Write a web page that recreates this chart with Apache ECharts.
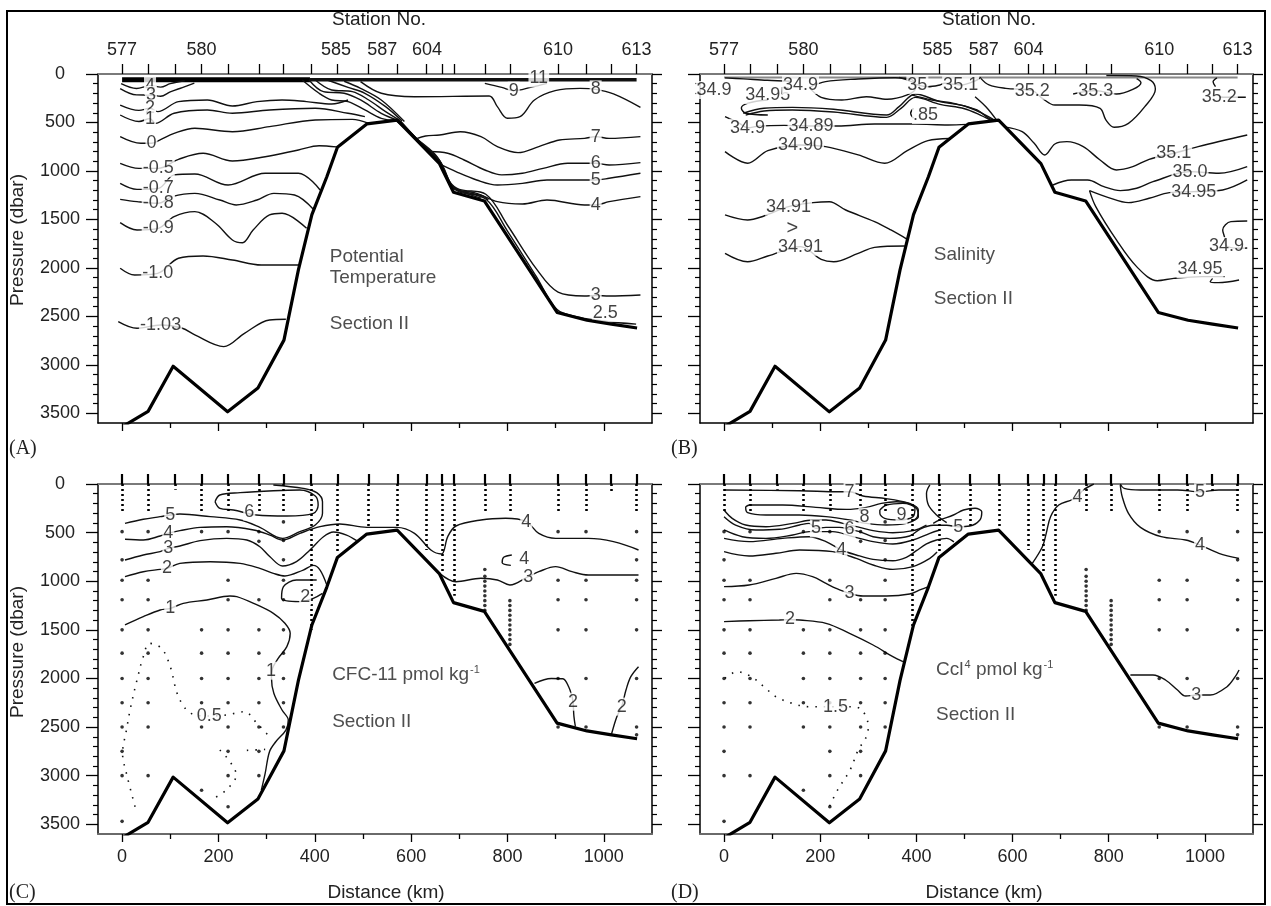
<!DOCTYPE html>
<html>
<head>
<meta charset="utf-8">
<script src="https://cdn.jsdelivr.net/npm/echarts@6/dist/echarts.min.js"></script>
<style>
html, body { margin: 0; padding: 0; background: #fff; }
#main { width: 1271px; height: 906px; }
</style>
</head>
<body>
<div id="main"></div>
<script>
// stations and axes
const stationKm = [0, 54, 110, 165, 220, 284, 335, 392, 447, 511, 572, 632, 664, 689, 753, 805, 905, 963, 1015, 1068];
const stationLabelKm = [0, 165, 444, 540, 633, 905, 1068];
const stationLabelNo = ['577', '580', '585', '587', '604', '610', '613'];
const distTicks = [0, 200, 400, 600, 800, 1000];
const distMinorTicks = [100, 300, 500, 700, 900];
const presTicks = [0, 500, 1000, 1500, 2000, 2500, 3000, 3500];
const presMinorTicks = [100, 200, 300, 400, 600, 700, 800, 900, 1100, 1200, 1300, 1400, 1600, 1700, 1800, 1900,
  2100, 2200, 2300, 2400, 2600, 2700, 2800, 2900, 3100, 3200, 3300, 3400];

// bottom topography (km, dbar)
const bathyKm = [0, 54, 106, 219, 282, 336, 366, 394, 425, 447, 508, 571, 659, 688, 752, 903, 965, 1016, 1069];
const bathyDbar = [3640, 3480, 3015, 3485, 3240, 2745, 2020, 1450, 1060, 755, 515, 475, 925, 1220, 1310, 2460, 2540, 2580, 2620];

// sampling (panels C, D)
const castBottom = [300, 300, 60, 300, 300, 280, 300, 1500, 700, 440, 440, 680, 900, 1150, 300, 300, 300, 300, 80, 300];
const deepSamples = [
  [490, 780, 990, 1190, 1500, 1740, 2000, 2250, 2500, 2750, 3000, 3470],
  [490, 990, 1190, 1500, 1740, 2000, 2250, 2500, 3000],
  [],
  [490, 1500, 1740, 2000, 2250, 2500, 3150],
  [490, 990, 1190, 1500, 1740, 2000, 2250, 2500, 2750, 3000, 3320],
  [490, 590, 1190, 1500, 1740, 2000, 2250, 2500, 2750, 3000],
  [390, 580, 780, 990, 1190, 1500, 1740, 2000, 2250, 2500],
  [], [], [], [], [], [], [],
  [880, 950, 1000, 1050, 1100, 1150, 1200, 1250, 1300],
  [1200, 1250, 1300, 1350, 1400, 1450, 1500, 1550, 1600, 1650],
  [490, 990, 1190, 1500, 2000, 2500],
  [490, 990, 1190, 1500, 2000, 2500],
  [],
  [490, 780, 990, 1190, 1500, 2000, 2500, 2580]
];

// (A) potential temperature contours
const tA_surfW = [[0, 60], [390, 60]];
const tA_surfE = [[390, 60], [1068, 60]];
const tA_4 = [[-2, 100], [30, 150], [58, 120], [80, 135], [100, 100], [130, 70]];
const tA_3 = [[-4, 150], [30, 215], [60, 217], [80, 230], [100, 185], [125, 140], [150, 95]];
const tA_2 = [[-4, 320], [35, 375], [58, 354], [74, 388], [117, 285], [177, 268], [229, 330], [280, 285], [332, 268], [383, 285], [435, 309], [469, 268]];
const tA_1 = [[-4, 423], [35, 490], [58, 460], [69, 509], [108, 405], [177, 371], [229, 405], [306, 371], [401, 354], [469, 405], [504, 440]];
const tA_0 = [[-4, 646], [39, 715], [61, 715], [78, 681], [108, 612], [151, 560], [229, 595], [306, 543], [401, 474], [478, 468], [512, 510]];
const tA_m05 = [[-4, 921], [35, 973], [75, 973], [117, 880], [168, 818], [229, 897], [297, 853], [366, 784], [409, 740], [445, 752]];
const tA_m07 = [[-4, 1128], [31, 1190], [75, 1180], [108, 1041], [151, 1031], [220, 1145], [297, 1024], [366, 1024], [411, 1196]];
const tA_m08 = [[-4, 1293], [31, 1317], [75, 1334], [104, 1265], [151, 1231], [203, 1300], [237, 1351], [280, 1300], [315, 1231], [358, 1248], [398, 1400]];
const tA_m09 = [[-4, 1533], [31, 1609], [75, 1592], [108, 1471], [151, 1420], [194, 1540], [229, 1712], [250, 1740], [272, 1609], [306, 1454], [332, 1437], [383, 1592]];
const tA_m10 = [[-4, 2004], [26, 2073], [74, 2056], [117, 1901], [168, 1877], [229, 1918], [289, 1970], [368, 1970]];
const tA_m103 = [[-8, 2554], [31, 2623], [80, 2589], [125, 2623], [151, 2692], [211, 2812], [254, 2675], [306, 2537], [340, 2530]];
const tA_s1 = [[374, 62], [409, 199], [435, 268], [469, 285], [504, 371], [538, 457], [571, 480]];
const tA_s2 = [[388, 62], [418, 182], [461, 199], [495, 268], [538, 405], [571, 475]];
const tA_s3 = [[401, 62], [435, 165], [478, 182], [512, 268], [547, 388], [577, 480]];
const tA_s4 = [[426, 62], [469, 138], [504, 199], [547, 337], [581, 485]];
const tA_s5 = [[461, 75], [495, 148], [538, 268], [586, 490]];
const tA_s6 = [[575, 478], [612, 670], [657, 880], [682, 1130], [700, 1200], [750, 1260], [760, 1300]];
const tA_s7 = [[578, 485], [614, 680], [660, 900], [685, 1160], [700, 1205], [745, 1280]];
const tA_3r = [[571, 480], [610, 660], [655, 860], [680, 1110], [700, 1190], [755, 1240], [800, 1560], [860, 2010], [905, 2250], [960, 2290], [983, 2285], [1011, 2290], [1076, 2280]];
const tA_25 = [[571, 490], [610, 668], [655, 885], [683, 1150], [700, 1215], [755, 1290], [800, 1620], [860, 2090], [903, 2430], [951, 2510], [1003, 2550], [1067, 2580]];
const tA_7 = [[610, 670], [630, 640], [659, 629], [702, 595], [745, 646], [779, 749], [822, 811], [865, 749], [908, 681], [960, 664], [983, 646], [1011, 664], [1076, 646]];
const tA_6 = [[638, 800], [676, 818], [710, 887], [753, 990], [788, 1041], [831, 1024], [874, 973], [925, 921], [960, 921], [983, 921], [1011, 938], [1076, 914]];
const tA_5 = [[660, 930], [693, 1007], [736, 1093], [779, 1145], [831, 1128], [882, 1093], [960, 1093], [983, 1093], [1011, 1076], [1076, 1024]];
const tA_4r = [[700, 1205], [736, 1231], [779, 1317], [831, 1341], [882, 1300], [960, 1351], [983, 1351], [1011, 1317], [1076, 1265]];
const tA_8 = [[495, 79], [538, 199], [607, 234], [762, 227], [779, 337], [800, 457], [826, 440], [856, 268], [899, 172], [951, 148], [983, 158], [1020, 206], [1076, 344]];
const tA_9 = [[753, 96], [788, 138], [813, 172], [848, 138], [882, 96]];
const tA_labels = [['4', 58, 120], ['3', 60, 217], ['2', 58, 354], ['1', 58, 460], ['0', 61, 715], ['-0.5', 75, 973],
  ['-0.7', 75, 1180], ['-0.8', 75, 1334], ['-0.9', 75, 1592], ['-1.0', 74, 2056], ['-1.03', 80, 2589],
  ['7', 983, 646], ['6', 983, 921], ['5', 983, 1093], ['4', 983, 1351], ['3', 983, 2285], ['2.5', 1003, 2465],
  ['8', 983, 158], ['9', 813, 172], ['11', 865, 45]];
const tA_text = [['Potential', 431, 1888], ['Temperature', 431, 2104], ['Section II', 431, 2572]];

// (B) salinity contours
const sB_top = [[0, 35], [1068, 35]];
const sB_loop = [[177, 138], [211, 79], [279, 52], [356, 38], [390, 55], [398, 148], [381, 216], [339, 261], [296, 234], [245, 268], [202, 241], [177, 138]];
const sB_a = [[2, 40], [40, 50], [90, 65], [140, 75]];
const sB_b = [[91, 268], [50, 300], [36, 350], [45, 405], [91, 423]];
const sB_b1 = [[40, 405], [83, 354], [142, 344], [228, 364], [338, 423], [364, 337], [398, 206], [449, 285], [500, 330], [534, 399], [564, 480]];
const sB_b2 = [[45, 425], [83, 382], [142, 371], [228, 392], [338, 447], [368, 354], [398, 241], [449, 313], [500, 358], [534, 426], [560, 490]];
const sB_b3 = [[390, 216], [432, 268], [483, 309], [526, 371], [551, 457], [568, 480]];
const sB_85 = [[394, 354], [388, 405], [394, 457]];
const sB_35 = [[364, 34], [390, 79], [402, 113], [424, 131], [449, 113], [458, 96], [492, 113], [526, 62], [534, 34]];
const sB_351b = [[522, 234], [545, 340], [566, 470]];
const sB_352 = [[534, 45], [551, 113], [586, 148], [641, 172], [662, 251], [688, 320], [739, 320], [782, 354], [794, 474], [811, 550], [841, 509], [875, 337], [897, 158], [888, 69], [858, 20], [795, 15]];
const sB_353 = [[726, 206], [773, 172], [816, 206], [850, 158], [867, 89], [858, 48]];
const sB_352r = [[1025, 40], [1017, 80], [1022, 130]];
const sB_352rr = [[1030, 237], [1060, 240], [1085, 240]];
const sB_3489 = [[2, 440], [32, 509], [49, 554], [74, 536], [125, 530], [181, 536], [236, 536], [313, 516], [398, 516], [466, 526], [505, 520]];
const sB_3490 = [[2, 801], [49, 921], [91, 791], [159, 732], [211, 749], [279, 835], [334, 921], [381, 791], [424, 688], [468, 665]];
const sB_3491a = [[2, 1454], [49, 1506], [83, 1465], [134, 1368], [185, 1327], [219, 1317], [253, 1403], [313, 1523], [347, 1609], [381, 1705]];
const sB_3491b = [[2, 1850], [49, 1936], [91, 1877], [159, 1781], [202, 1912], [228, 1936], [279, 1850], [313, 1788], [376, 1774]];
const sB_351r = [[583, 545], [620, 595], [645, 715], [667, 836], [688, 722], [713, 698], [747, 749], [782, 887], [816, 990], [850, 956], [884, 880], [935, 818], [986, 749], [1088, 629]];
const sB_350 = [[684, 1145], [722, 1093], [756, 1093], [790, 1162], [824, 1203], [858, 1179], [892, 1111], [969, 1007], [1029, 1024], [1088, 956]];
const sB_3495u = [[760, 1203], [798, 1272], [841, 1327], [884, 1282], [926, 1224], [977, 1213], [1037, 1196], [1088, 1093]];
const sB_3495s = [[760, 1203], [773, 1368], [816, 1712], [858, 1987], [901, 2132], [935, 2108], [994, 2090], [1041, 2090]];
const sB_349r = [[1088, 1517], [1054, 1523], [1037, 1609], [1041, 1685], [1045, 1774], [1075, 1798], [1088, 1795]];
const sB_paren = [[1016, 2108], [1011, 2142], [1028, 2152], [1071, 2125]];
const sB_labels = [['34.9', -21, 165], ['34.95', 91, 216], ['34.9', 159, 113], ['.85', 419, 423], ['35', 402, 113], ['35.1', 492, 113],
  ['35.2', 641, 172], ['35.3', 773, 172], ['35.2', 1030, 237], ['34.9', 49, 554], ['34.89', 181, 536], ['34.90', 159, 732],
  ['34.91', 134, 1368], ['34.91', 159, 1781], ['35.1', 935, 818], ['35.0', 969, 1007], ['34.95', 977, 1213],
  ['34.95', 990, 2015], ['34.9', 1045, 1774]];
const sB_text = [['Salinity', 436, 1867], ['Section II', 436, 2314]];
const sB_arrow = [['>', 142, 1592]];

// (C) CFC-11 contours
const cC_6 = [[193, 182], [203, 113], [245, 89], [314, 69], [369, 62], [401, 123], [407, 216], [397, 302], [342, 329], [279, 319], [231, 267], [203, 250], [193, 182]];
const cC_5 = [[6, 405], [44, 363], [79, 336], [100, 319], [120, 309], [183, 336], [245, 370], [286, 446], [333, 559], [369, 490], [401, 422], [416, 302], [416, 182], [404, 89], [376, 45], [314, 10]];
const cC_4 = [[6, 569], [44, 576], [79, 535], [96, 507], [120, 480], [162, 446], [217, 439], [273, 473], [307, 525], [333, 576], [369, 507], [411, 439], [452, 411], [508, 446], [570, 446], [607, 507], [641, 679], [663, 720], [676, 542], [693, 432], [745, 370], [796, 353], [839, 387], [865, 508], [900, 559], [968, 559], [1020, 593], [1072, 679]];
const cC_3 = [[6, 782], [44, 730], [79, 696], [96, 662], [120, 638], [162, 583], [217, 559], [259, 576], [286, 645], [307, 748], [333, 844], [362, 799], [390, 679], [418, 542], [439, 494], [466, 525], [487, 583]];
const cC_3r = [[659, 919], [693, 1005], [745, 970], [779, 987], [805, 1039], [843, 953], [865, 902], [900, 850], [934, 902], [968, 936], [1072, 936]];
const cC_4s = [[809, 730], [792, 754], [789, 809], [807, 837]];
const cC_2 = [[6, 953], [44, 902], [79, 878], [93, 868], [120, 816], [183, 799], [245, 816], [286, 868], [314, 919], [338, 946], [376, 885], [397, 837], [411, 885], [425, 1040]];
const cC_2loop = [[404, 988], [362, 988], [335, 1056], [331, 1176], [369, 1210], [397, 1176], [416, 1125]];
const cC_1 = [[6, 1450], [44, 1365], [79, 1296], [100, 1279], [127, 1228], [176, 1193], [224, 1152], [238, 1159], [273, 1228], [314, 1330], [338, 1433], [349, 1536], [342, 1673], [324, 1793], [312, 1900], [310, 1990], [315, 2153], [332, 2325], [345, 2428], [340, 2531], [319, 2651], [306, 2753], [297, 2976], [289, 3150]];
const cC_05a = [[27, 3319], [9, 2976], [1, 2771], [9, 2531], [18, 2290], [31, 2016], [44, 1776], [57, 1639], [82, 1690], [100, 1879], [117, 2188], [143, 2359], [181, 2387], [216, 2376], [254, 2342], [280, 2462], [306, 2599]];
const cC_05b = [[203, 2736], [224, 2856], [237, 2993], [216, 3148], [190, 3234]];
const cC_05c = [[259, 2740], [297, 2730]];
const cC_2a = [[856, 2051], [891, 2000], [915, 2003], [927, 2085], [934, 2188], [936, 2239], [938, 2393], [941, 2496]];
const cC_2b = [[1016, 2572], [1027, 2393], [1037, 2290], [1046, 2119], [1056, 1982], [1072, 1879]];
const cC_labels = [['6', 264, 285], ['5', 100, 319], ['4', 96, 507], ['4', 839, 387], ['3', 96, 662], ['3', 843, 953], ['4', 835, 775],
  ['2', 93, 868], ['2', 380, 1159], ['1', 100, 1279], ['1', 309, 1920], ['0.5', 181, 2387], ['2', 936, 2239], ['2', 1037, 2290]];
const cC_text = [['CFC-11 pmol kg{sup|-1}', 436, 1965], ['Section II', 436, 2445]];

// (D) CCl4 contours
const cD_7 = [[0, 62], [157, 69], [240, 79], [261, 79], [289, 123], [337, 151], [379, 192], [400, 250], [404, 336], [393, 377]];
const cD_8 = [[52, 216], [122, 216], [191, 240], [254, 261], [296, 240], [327, 199], [358, 182], [386, 199], [404, 267], [400, 353], [379, 405], [337, 422], [296, 405], [261, 370], [212, 336], [157, 319], [87, 319], [49, 295], [45, 240], [52, 216]];
const cD_9 = [[324, 267], [338, 216], [372, 199], [397, 250], [393, 336], [365, 370], [334, 353], [324, 302], [324, 267]];
const cD_c1 = [[0, 267], [17, 353], [45, 422], [87, 439], [143, 405], [184, 370], [212, 370], [247, 405], [282, 446], [310, 480], [351, 501], [393, 480], [421, 422]];
const cD_c2 = [[0, 336], [24, 422], [66, 473], [115, 466], [157, 422], [177, 405], [191, 456], [212, 446], [240, 446], [261, 466], [282, 490], [310, 542], [344, 559], [386, 535], [407, 466], [435, 425], [463, 425], [487, 439], [511, 432], [532, 370], [536, 285], [522, 250], [498, 267], [477, 319], [449, 370], [435, 405]];
const cD_c3 = [[0, 473], [38, 542], [87, 559], [143, 525], [177, 490], [226, 490], [268, 542], [310, 593], [351, 617], [393, 576], [428, 507], [449, 473]];
const cD_4 = [[0, 559], [52, 593], [122, 559], [177, 542], [212, 593], [244, 679], [275, 730], [310, 775], [351, 789], [379, 754], [400, 686], [421, 617], [442, 576], [463, 559], [478, 595]];
const cD_c5 = [[0, 696], [52, 741], [108, 713], [157, 679], [226, 696], [275, 765], [310, 833], [351, 878], [393, 850], [428, 765], [443, 700]];
const cD_5r = [[428, 10], [421, 96], [425, 216], [442, 319], [463, 398]];
const cD_3 = [[0, 1056], [52, 1039], [108, 970], [150, 919], [184, 953], [212, 1022], [233, 1073], [261, 1125], [289, 1152], [338, 1152], [386, 1132], [407, 1090], [425, 1056]];
const cD_2 = [[0, 1416], [52, 1406], [115, 1399], [137, 1395], [157, 1399], [212, 1433], [261, 1536], [310, 1656], [351, 1776], [372, 1828]];
const cD_15 = [[2, 1999], [27, 1931], [57, 1982], [83, 2085], [108, 2188], [142, 2256], [176, 2291], [232, 2291], [266, 2291], [287, 2325], [300, 2496], [296, 2599], [279, 2736], [262, 2942], [236, 3148], [219, 3319]];
const cD_4r = [[641, 816], [662, 645], [670, 508], [679, 336], [696, 216], [722, 165], [735, 130], [747, 62], [769, 0]];
const cD_5t = [[824, 0], [832, 45], [866, 62], [943, 62], [990, 80], [1029, 62], [1071, 62]];
const cD_4rr = [[824, 10], [828, 130], [841, 302], [866, 446], [909, 542], [960, 576], [990, 628], [1029, 713], [1071, 765]];
const cD_3r = [[845, 1965], [892, 1965], [918, 2016], [943, 2119], [960, 2181], [982, 2171], [1011, 2171], [1046, 2085], [1063, 1982], [1071, 1913]];
const cD_labels = [['7', 261, 79], ['8', 292, 336], ['9', 369, 319], ['5', 191, 456], ['6', 261, 466], ['5', 487, 439], ['4', 244, 679],
  ['3', 261, 1125], ['2', 137, 1390], ['1.5', 232, 2291], ['4', 735, 130], ['5', 990, 85], ['4', 990, 628], ['3', 982, 2171]];
const cD_text = [['Ccl{sup|4} pmol kg{sup|-1}', 441, 1913], ['Section II', 441, 2376]];

// ---------------------------------------------------------------
const FONT = '"Liberation Sans", Arial, Helvetica, sans-serif';
const plain = v => String(v);
const grids = [
  { left: 98, top: 74, width: 554, height: 349 },
  { left: 700, top: 74, width: 553, height: 349 },
  { left: 98, top: 484, width: 554, height: 350 },
  { left: 700, top: 484, width: 553, height: 350 }
];

const xAxes = [];
const yAxes = [];
grids.forEach((gr, g) => {
  const lower = g >= 2;
  const xBase = { gridIndex: g, type: 'value', min: -50, max: 1100, splitLine: { show: false } };
  xAxes.push(Object.assign({}, xBase, {
    position: 'bottom',
    axisLine: { show: true, onZero: false, lineStyle: { color: lower ? '#6a6a6a' : '#000', width: lower ? 2 : 1.5 } },
    axisTick: { show: true, customValues: distTicks, length: 8, lineStyle: { color: '#000', width: 1.3 } },
    axisLabel: { show: lower, customValues: distTicks, fontSize: 18, color: '#222', fontFamily: FONT, margin: 14, formatter: plain }
  }));
  xAxes.push(Object.assign({}, xBase, {
    position: 'bottom',
    axisLine: { show: false, onZero: false },
    axisTick: { show: true, customValues: distMinorTicks, length: 5, lineStyle: { color: '#000', width: 1.3 } },
    axisLabel: { show: false }
  }));
  xAxes.push(Object.assign({}, xBase, {
    position: 'top',
    axisLine: { show: true, onZero: false, lineStyle: { color: '#7a7a7a', width: 2 } },
    axisTick: { show: true, customValues: stationKm, length: 10, lineStyle: { color: '#000', width: lower ? 2.2 : 1.3 } },
    axisLabel: {
      show: !lower, customValues: stationLabelKm, fontSize: 18, color: '#222', fontFamily: FONT, margin: 15,
      formatter: v => stationLabelNo[stationLabelKm.indexOf(v)] || ''
    }
  }));
  const yBase = { gridIndex: g, type: 'value', inverse: true, min: 0, max: 3600, splitLine: { show: false } };
  yAxes.push(Object.assign({}, yBase, {
    position: 'left',
    axisLine: { show: true, onZero: false, lineStyle: { color: '#000', width: 1.5 } },
    axisTick: { show: true, customValues: presTicks, length: 12, lineStyle: { color: '#000', width: 1.3 } },
    axisLabel: { show: g === 0 || g === 2, customValues: presTicks, fontSize: 18, color: '#222', fontFamily: FONT, margin: 38, align: 'center', formatter: plain }
  }));
  yAxes.push(Object.assign({}, yBase, {
    position: 'left',
    axisLine: { show: false, onZero: false },
    axisTick: { show: true, customValues: presMinorTicks, length: 5, lineStyle: { color: '#000', width: 1.2 } },
    axisLabel: { show: false }
  }));
  yAxes.push(Object.assign({}, yBase, {
    position: 'right',
    axisLine: { show: true, onZero: false, lineStyle: { color: '#000', width: 1.5 } },
    axisTick: { show: true, customValues: presTicks, length: 10, lineStyle: { color: '#000', width: 1.3 } },
    axisLabel: { show: false }
  }));
  yAxes.push(Object.assign({}, yBase, {
    position: 'right',
    axisLine: { show: false, onZero: false },
    axisTick: { show: true, customValues: presMinorTicks, length: 5, lineStyle: { color: '#000', width: 1.2 } },
    axisLabel: { show: false }
  }));
});

const series = [];
function contour(g, pts, extra) {
  series.push(Object.assign({
    type: 'line', xAxisIndex: 3 * g, yAxisIndex: 4 * g, data: pts, symbol: 'none', smooth: 0.35,
    silent: true, animation: false, z: 2,
    lineStyle: { color: '#111', width: 1.4 }
  }, extra || {}));
}
function dotted(g, pts) {
  contour(g, pts, { lineStyle: { color: '#111', width: 1.6, type: [1.5, 7] } });
}
function labels(g, arr, fs) {
  series.push({
    type: 'scatter', xAxisIndex: 3 * g, yAxisIndex: 4 * g, silent: true, animation: false, z: 4,
    symbol: 'rect', symbolSize: 1, itemStyle: { color: 'rgba(0,0,0,0)' },
    data: arr.map(d => ({ value: [d[1], d[2]], name: d[0] })),
    label: {
      show: true, position: 'inside', formatter: p => p.name, fontSize: fs || 18, color: '#111',
      fontFamily: FONT, backgroundColor: '#fff', padding: [0, 1]
    }
  });
}
function texts(g, arr) {
  series.push({
    type: 'scatter', xAxisIndex: 3 * g, yAxisIndex: 4 * g, silent: true, animation: false, z: 4,
    symbol: 'rect', symbolSize: 1, itemStyle: { color: 'rgba(0,0,0,0)' },
    data: arr.map(d => ({ value: [d[1], d[2]], name: d[0] })),
    label: {
      show: true, position: 'inside', align: 'left', formatter: p => p.name, fontSize: 19, color: '#222',
      fontFamily: FONT,
      rich: { sup: { fontSize: 11, fontFamily: FONT, color: '#222', padding: [0, 0, 10, 1] } }
    }
  });
}
function bathy(g) {
  series.push({
    type: 'line', xAxisIndex: 3 * g, yAxisIndex: 4 * g, symbol: 'none', silent: true, animation: false, z: 5,
    data: bathyKm.map((k, i) => [k, bathyDbar[i]]),
    lineStyle: { color: '#000', width: 3.2, join: 'round' }
  });
}
function samples(g) {
  series.push({
    type: 'lines', coordinateSystem: 'cartesian2d', xAxisIndex: 3 * g, yAxisIndex: 4 * g, silent: true, animation: false, z: 3,
    data: stationKm.map((k, i) => ({ coords: [[k, 0], [k, castBottom[i]]] })),
    lineStyle: { color: '#000', width: 2.6, type: [2, 3], opacity: 1 }
  });
  const pts = [];
  stationKm.forEach((k, i) => deepSamples[i].forEach(p => pts.push([k, p])));
  series.push({
    type: 'scatter', xAxisIndex: 3 * g, yAxisIndex: 4 * g, silent: true, animation: false, z: 3,
    symbol: 'circle', symbolSize: 3.6, itemStyle: { color: '#000' }, data: pts
  });
}

// panel A
contour(0, tA_surfW, { smooth: false, lineStyle: { color: '#000', width: 5 } });
contour(0, tA_surfE, { smooth: false, lineStyle: { color: '#111', width: 3.5 } });
[tA_4, tA_3, tA_2, tA_1, tA_0, tA_m05, tA_m07, tA_m08, tA_m09, tA_m10, tA_m103,
 tA_s1, tA_s2, tA_s3, tA_s4, tA_s5, tA_s6, tA_s7, tA_3r, tA_25, tA_7, tA_6, tA_5, tA_4r, tA_8, tA_9]
  .forEach(c => contour(0, c));
labels(0, tA_labels);
texts(0, tA_text);
bathy(0);

// panel B
contour(1, sB_top, { smooth: false, lineStyle: { color: '#888', width: 2 } });
[sB_loop, sB_a, sB_b, sB_b1, sB_b2, sB_b3, sB_85, sB_35, sB_351b, sB_352, sB_353, sB_352r, sB_352rr,
 sB_3489, sB_3490, sB_3491a, sB_3491b, sB_351r, sB_350, sB_3495u, sB_3495s, sB_349r, sB_paren]
  .forEach(c => contour(1, c));
labels(1, sB_labels);
labels(1, sB_arrow, 20);
texts(1, sB_text);
bathy(1);

// panel C
samples(2);
[cC_6, cC_5, cC_4, cC_3, cC_3r, cC_4s, cC_2, cC_2loop, cC_1, cC_2a, cC_2b].forEach(c => contour(2, c));
[cC_05a, cC_05b, cC_05c].forEach(c => dotted(2, c));
labels(2, cC_labels);
texts(2, cC_text);
bathy(2);

// panel D
samples(3);
[cD_7, cD_8, cD_9, cD_c1, cD_c2, cD_c3, cD_4, cD_c5, cD_5r, cD_3, cD_2, cD_4r, cD_5t, cD_4rr, cD_3r].forEach(c => contour(3, c));
dotted(3, cD_15);
labels(3, cD_labels);
texts(3, cD_text);
bathy(3);

const txt = (s, x, y, extra) => Object.assign({
  type: 'text', x: x, y: y, silent: true,
  style: { text: s, font: '19px ' + FONT, fill: '#222', align: 'center', verticalAlign: 'middle' }
}, extra || {});
const serif = '20px "Liberation Serif", "Times New Roman", serif';

const chart = echarts.init(document.getElementById('main'));
chart.setOption({
  animation: false,
  backgroundColor: '#fff',
  grid: grids,
  xAxis: xAxes,
  yAxis: yAxes,
  series: series,
  graphic: [
    { type: 'rect', silent: true, shape: { x: 7, y: 11, width: 1258, height: 893 }, style: { fill: 'none', stroke: '#000', lineWidth: 2 } },
    txt('Station No.', 379, 20),
    txt('Station No.', 989, 20),
    txt('Pressure (dbar)', 18, 240, { rotation: Math.PI / 2 }),
    txt('Pressure (dbar)', 18, 652, { rotation: Math.PI / 2 }),
    txt('Distance (km)', 386, 893),
    txt('Distance (km)', 984, 893),
    { type: 'text', x: 9, y: 449, silent: true, style: { text: '(A)', font: serif, fill: '#222', verticalAlign: 'middle' } },
    { type: 'text', x: 671, y: 449, silent: true, style: { text: '(B)', font: serif, fill: '#222', verticalAlign: 'middle' } },
    { type: 'text', x: 9, y: 893, silent: true, style: { text: '(C)', font: serif, fill: '#222', verticalAlign: 'middle' } },
    { type: 'text', x: 671, y: 893, silent: true, style: { text: '(D)', font: serif, fill: '#222', verticalAlign: 'middle' } }
  ]
});
</script>
</body>
</html>
